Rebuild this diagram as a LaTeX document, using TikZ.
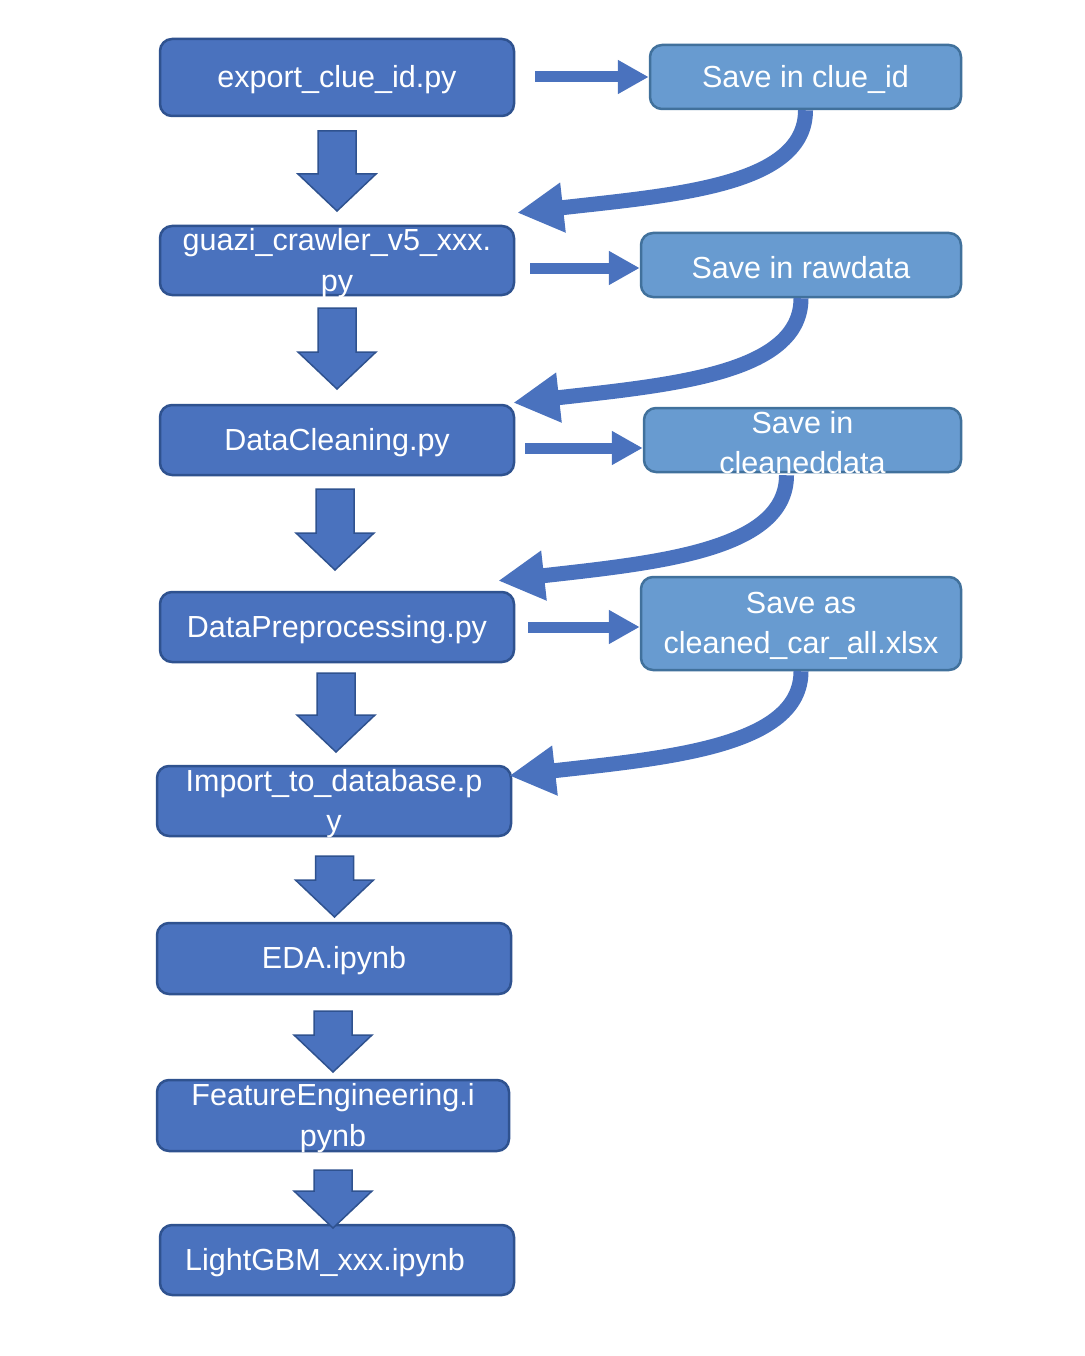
\documentclass[tikz,border=0pt]{standalone}
\usepackage{fontspec}
\setmainfont{Liberation Sans}
\usetikzlibrary{arrows.meta}
\definecolor{boxfill}{RGB}{74,114,190}
\definecolor{boxline}{RGB}{47,82,143}
\definecolor{lightfill}{RGB}{104,155,208}
\definecolor{lightline}{RGB}{65,113,156}
\definecolor{arrowcol}{RGB}{74,114,190}
\newcommand\blockarr[3]{%
  \draw[blockarrow] (#1-19,#2) -- (#1+19,#2) -- (#1+19,#3-37) -- (#1+39,#3-37)
    -- (#1,#3) -- (#1-39,#3-37) -- (#1-19,#3-37) -- cycle;}
\begin{document}
\begin{tikzpicture}[x=1pt,y=-1pt,
  darkbox/.style={draw=boxline, fill=boxfill, line width=2.5pt, rounded corners=12pt, inner sep=0pt},
  lightbox/.style={draw=lightline, fill=lightfill, line width=2.5pt, rounded corners=12pt, inner sep=0pt},
  txt/.style={text=white, font=\fontsize{30.5}{40.5}\selectfont, align=center, inner sep=0pt, yshift=-2.5pt},
  blockarrow/.style={draw=boxline, fill=arrowcol, line width=1.5pt, line join=miter},
  straightarrow/.style={draw=arrowcol, line width=11pt, -{Triangle[length=31pt,width=32pt]}},
  curvearrow/.style={draw=arrowcol, line width=15pt, -{Triangle[length=46pt,width=47pt]}}]
\useasboundingbox (0,0) rectangle (1084,1356);
\fill[white] (0,0) rectangle (1084,1356);
% left boxes
\node[darkbox, minimum width=354pt, minimum height=77pt] (n1) at (337,77.5) {};
\node[darkbox, minimum width=354pt, minimum height=69pt] (n2) at (337,260.5) {};
\node[darkbox, minimum width=354pt, minimum height=70pt] (n3) at (337,440) {};
\node[darkbox, minimum width=354pt, minimum height=70pt] (n4) at (337,627) {};
\node[darkbox, minimum width=354pt, minimum height=70pt] (n5) at (334,801) {};
\node[darkbox, minimum width=354pt, minimum height=71pt] (n6) at (334,958.5) {};
\node[darkbox, minimum width=352pt, minimum height=71pt] (n7) at (333,1115.5) {};
\node[darkbox, minimum width=354pt, minimum height=70pt] (n8) at (337,1260) {};
% right boxes
\node[lightbox, minimum width=311pt, minimum height=64pt] (A) at (805.5,77) {};
\node[lightbox, minimum width=320pt, minimum height=64pt] (B) at (801,265) {};
\node[lightbox, minimum width=317pt, minimum height=64pt] (C) at (802.5,440) {};
\node[lightbox, minimum width=320pt, minimum height=93pt] (D) at (801,623.5) {};
% block arrows
\blockarr{337}{131}{211}
\blockarr{337}{308}{389}
\blockarr{335}{489}{570}
\blockarr{336}{673}{752}
\blockarr{334.5}{856}{917}
\blockarr{333}{1011}{1072}
\blockarr{333}{1170}{1228}
% straight arrows
\draw[straightarrow] ([xshift=20pt]n1.east |- A.west) -- (A.west);
\draw[straightarrow] ([xshift=15pt,yshift=-3pt]n2.east |- B.west) -- ([yshift=-3pt]B.west);
\draw[straightarrow] ([xshift=10pt,yshift=-8pt]n3.east |- C.west) -- ([yshift=-8pt]C.west);
\draw[straightarrow] ([xshift=13pt]n4.east) -- (n4.east -| D.west);
% curved arrows
\draw[curvearrow] (A.south) .. controls +(0,75) and +(160,-18) .. ([xshift=2pt,yshift=12pt]n2.north east);
\draw[curvearrow] (B.south) .. controls +(0,75) and +(160,-18) .. ([xshift=-2pt,yshift=1pt]n3.north east);
\draw[curvearrow] ([xshift=-16pt,yshift=-2pt]C.south) .. controls +(0,75) and +(160,-18) .. ([xshift=-17pt,yshift=10pt]n4.north east);
\draw[curvearrow] (D.south) .. controls +(0,75) and +(160,-18) .. ([xshift=-3pt,yshift=-11pt]n5.north east);
% texts
\node[txt] (t1) at (n1.center) {export\_clue\_id.py};
\node[txt] (t2) at (n2.center) {guazi\_crawler\_v5\_xxx.\\py};
\node[txt] (t3) at (n3.center) {DataCleaning.py};
\node[txt] (t4) at (n4.center) {DataPreprocessing.py};
\node[txt] (t5) at (n5.center) {Import\_to\_database.p\\y};
\node[txt] (t6) at (n6.center) {EDA.ipynb};
\node[txt] (t7) at (n7.center) {FeatureEngineering.i\\pynb};
\node[txt] (t8) at ([xshift=-12pt]n8.center) {LightGBM\_xxx.ipynb};
\node[txt] (tA) at (A.center) {Save in clue\_id};
\node[txt] (tB) at (B.center) {Save in rawdata};
\node[txt] (tC) at (C.center) {Save in\\cleaneddata};
\node[txt] (tD) at (D.center) {Save as\\cleaned\_car\_all.xlsx};
\end{tikzpicture}
\end{document}
